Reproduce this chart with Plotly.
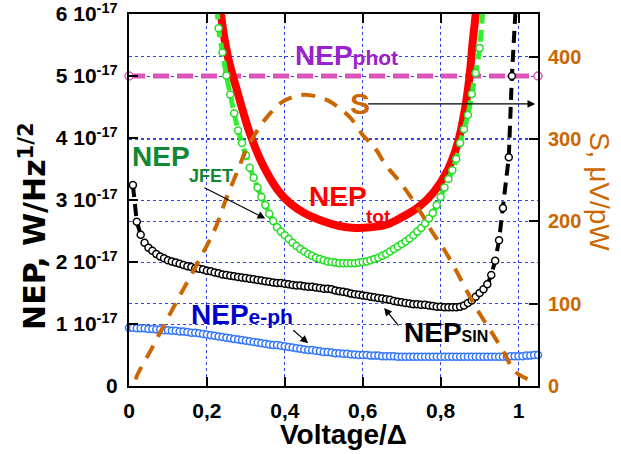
import plotly.graph_objects as go

# ---------------- data ----------------
x_ticks = [0, 0.2, 0.4, 0.6, 0.8, 1.0]
x_tick_labels = ["0", "0,2", "0,4", "0,6", "0,8", "1"]
nep_ticks = [0, 1, 2, 3, 4, 5, 6]
nep_tick_labels = ["0", "1 10<sup>-17</sup>", "2 10<sup>-17</sup>", "3 10<sup>-17</sup>",
                   "4 10<sup>-17</sup>", "5 10<sup>-17</sup>", "6 10<sup>-17</sup>"]
s_ticks = [0, 100, 200, 300, 400]

# NEP values in units of 1e-17 W/Hz^1/2
phot_x = [0.0, 1.05]
phot_y = [5.0, 5.0]

jfet_start, jfet_step = 0.23, 0.01
jfet_y = [5.77, 5.38, 5.01, 4.70, 4.40, 4.12, 3.92, 3.72, 3.52, 3.36,
          3.20, 3.05, 2.92, 2.78, 2.66, 2.56, 2.49, 2.43, 2.37, 2.31,
          2.26, 2.21, 2.17, 2.13, 2.10, 2.07, 2.05, 2.03, 2.01, 2.00,
          1.99, 1.98, 1.98, 1.98, 1.98, 1.98, 1.99, 2.00, 2.01, 2.03,
          2.05, 2.07, 2.10, 2.13, 2.17, 2.21, 2.25, 2.29, 2.33, 2.38,
          2.43, 2.49, 2.55, 2.62, 2.70, 2.79, 2.92, 3.05, 3.20, 3.34,
          3.48, 3.66, 3.92, 4.14, 4.37, 4.71, 5.05, 5.45]
jfet_end_x = [0.224, 0.912]
jfet_end_y = [6.4, 6.4]

sin_start, sin_step = 0.01, 0.01
sin_y = [3.24, 2.65, 2.44, 2.31, 2.23, 2.18, 2.13, 2.09, 2.06, 2.03,
         2.01, 1.99, 1.97, 1.95, 1.93, 1.92, 1.90, 1.89, 1.88, 1.86,
         1.85, 1.83, 1.82, 1.80, 1.79, 1.78, 1.77, 1.76, 1.75, 1.74,
         1.73, 1.72, 1.71, 1.70, 1.69, 1.68, 1.67, 1.66, 1.66, 1.65,
         1.64, 1.63, 1.62, 1.62, 1.61, 1.60, 1.60, 1.59, 1.58, 1.57,
         1.57, 1.56, 1.54, 1.53, 1.52, 1.51, 1.49, 1.48, 1.47, 1.46,
         1.45, 1.44, 1.43, 1.42, 1.41, 1.40, 1.39, 1.37, 1.36, 1.35,
         1.34, 1.33, 1.32, 1.32, 1.31, 1.31, 1.30, 1.29, 1.28, 1.28,
         1.27, 1.27, 1.27, 1.27, 1.28, 1.30, 1.34, 1.38, 1.44, 1.50,
         1.56, 1.64, 1.79, 2.02, 2.35, 2.87]
sin_tail_x = [0.975, 0.983]
sin_tail_y = [3.69, 5.00]
sin_end_x = [0.993, 0.997]
sin_end_y = [6.0, 6.6]

eph_start, eph_step = 0.0, 0.01
eph_y = [0.94, 0.94, 0.93, 0.93, 0.93, 0.92, 0.92, 0.91, 0.91, 0.90,
         0.90, 0.89, 0.89, 0.88, 0.88, 0.87, 0.86, 0.86, 0.85, 0.84,
         0.83, 0.82, 0.81, 0.80, 0.79, 0.78, 0.77, 0.76, 0.75, 0.74,
         0.73, 0.72, 0.71, 0.70, 0.69, 0.68, 0.67, 0.66, 0.66, 0.65,
         0.64, 0.63, 0.62, 0.61, 0.60, 0.59, 0.58, 0.58, 0.57, 0.56,
         0.55, 0.55, 0.54, 0.53, 0.53, 0.52, 0.52, 0.51, 0.51, 0.50,
         0.50, 0.50, 0.49, 0.49, 0.49, 0.48, 0.48, 0.48, 0.48, 0.47,
         0.47, 0.47, 0.47, 0.47, 0.47, 0.47, 0.47, 0.47, 0.47, 0.47,
         0.47, 0.47, 0.47, 0.47, 0.47, 0.47, 0.47, 0.47, 0.47, 0.47,
         0.47, 0.47, 0.47, 0.47, 0.47, 0.47, 0.47, 0.47, 0.48, 0.48,
         0.48, 0.48, 0.49, 0.49, 0.50, 0.50]

tot_x = [0.232, 0.236, 0.254, 0.279, 0.31, 0.341, 0.382, 0.413, 0.45, 0.497,
         0.54, 0.58, 0.62, 0.66, 0.70, 0.74, 0.78, 0.818, 0.844, 0.862,
         0.874, 0.882, 0.89, 0.893]
tot_y = [6.3, 6.0, 5.31, 4.73, 4.08, 3.6, 3.16, 2.95, 2.79, 2.66,
         2.58, 2.55, 2.56, 2.60, 2.72, 2.87, 3.11, 3.48, 3.92, 4.45,
         4.98, 5.53, 6.0, 6.3]

# responsivity S, uV/pW (right axis)
s_x = [0.018, 0.02, 0.06, 0.10, 0.14, 0.18, 0.22, 0.25, 0.28, 0.30,
       0.33, 0.36, 0.39, 0.42, 0.45, 0.48, 0.51, 0.54, 0.57, 0.60,
       0.63, 0.66, 0.69, 0.72, 0.75, 0.78, 0.81, 0.84, 0.87, 0.90,
       0.93, 0.96, 0.99, 1.02, 1.04]
s_y = [8, 12, 47, 83, 118, 153, 190, 228, 263, 286,
       311, 330, 344, 351, 354, 352, 347, 338, 325, 305,
       290, 268, 251, 232, 210, 186, 165, 140, 113, 88,
       66, 43, 18, 9, 5]

def grid(start, step, n):
    return [round(start + step * i, 4) for i in range(n)]

jfet_x = grid(jfet_start, jfet_step, len(jfet_y))
sin_x = grid(sin_start, sin_step, len(sin_y)) + sin_tail_x
sin_all_y = sin_y + sin_tail_y
eph_x = grid(eph_start, eph_step, len(eph_y))

# ---------------- styles ----------------
FONT = "Liberation Sans, Arial, sans-serif"
WIDE_FONT = "DejaVu Sans, Liberation Sans, sans-serif"
ORANGE = "#CC6600"
PINK = "#DD55BB"
RED = "#FF0000"
LIME = "#33EE33"
GREEN_TXT = "#118833"
BLUE = "#3377FF"
GRID = "#3344EE"

fig = go.Figure()

# photon NEP
fig.add_trace(go.Scatter(x=phot_x, y=phot_y, mode="lines+markers",
                         line=dict(color=PINK, width=5, dash="16px,8px"),
                         marker=dict(symbol="circle", size=8, color="white",
                                     line=dict(color=PINK, width=1.5)),
                         cliponaxis=False))
# total NEP
fig.add_trace(go.Scatter(x=tot_x, y=tot_y, mode="lines",
                         line=dict(color=RED, width=8, shape="spline")))
# JFET dashed fit + markers
fig.add_trace(go.Scatter(x=[jfet_end_x[0]] + jfet_x + [jfet_end_x[1]],
                         y=[jfet_end_y[0]] + jfet_y + [jfet_end_y[1]],
                         mode="lines",
                         line=dict(color=LIME, width=5, dash="12px,6px", shape="spline")))
fig.add_trace(go.Scatter(x=jfet_x, y=jfet_y, mode="markers",
                         marker=dict(symbol="circle", size=7, color="white",
                                     line=dict(color="#22DD22", width=1.5))))
# SIN dashed fit + markers
fig.add_trace(go.Scatter(x=sin_x + sin_end_x, y=sin_all_y + sin_end_y, mode="lines",
                         line=dict(color="black", width=4, dash="12px,7px")))
fig.add_trace(go.Scatter(x=sin_x, y=sin_all_y, mode="markers",
                         marker=dict(symbol="circle", size=7, color="white",
                                     line=dict(color="black", width=1.5))))
# electron-phonon NEP
fig.add_trace(go.Scatter(x=eph_x, y=eph_y, mode="markers",
                         marker=dict(symbol="circle", size=7, color="white",
                                     line=dict(color=BLUE, width=1.5)),
                         cliponaxis=False))
# responsivity
fig.add_trace(go.Scatter(x=s_x, y=s_y, mode="lines", yaxis="y2",
                         line=dict(color=ORANGE, width=4, dash="14px,10px", shape="spline")))

axis_common = dict(ticks="inside", ticklen=9, tickwidth=1.5, tickcolor="black",
                   showline=True, linecolor="black", linewidth=2,
                   showgrid=True, gridcolor=GRID, griddash="dot", gridwidth=1,
                   zeroline=False, automargin=False, ticklabeloverflow="allow")

fig.update_layout(
    width=621, height=454,
    margin=dict(l=129, r=83, t=14, b=68),
    plot_bgcolor="white", paper_bgcolor="white",
    showlegend=False,
    font=dict(family=FONT, color="black"),
    xaxis=dict(range=[0, 1.05], tickvals=x_ticks, ticktext=x_tick_labels,
               mirror="ticks", ticklabelstandoff=5,
               tickfont=dict(size=21, weight="bold", color="black"), **axis_common),
    yaxis=dict(range=[0, 6], tickvals=nep_ticks, ticktext=nep_tick_labels,
               ticklabelstandoff=5,
               tickfont=dict(size=21, weight="bold", color="black"), **axis_common),
    yaxis2=dict(range=[0, 452], tickvals=s_ticks, overlaying="y", side="right",
                ticklabelstandoff=4,
                tickfont=dict(size=20, weight="bold", color=ORANGE), **axis_common),
)

def label(text, x, y, color, size, xanchor="left", yanchor="middle", xref="x", yref="y",
          angle=0, weight="bold", family=FONT):
    fig.add_annotation(text=text, x=x, y=y, xref=xref, yref=yref, showarrow=False,
                       xanchor=xanchor, yanchor=yanchor, textangle=angle,
                       font=dict(family=family, size=size, color=color, weight=weight))

def arrow(x, y, ax, ay):
    fig.add_annotation(x=x, y=y, ax=ax, ay=ay, xref="x", yref="y", axref="x", ayref="y",
                       text="", showarrow=True, arrowhead=2, arrowsize=1.3,
                       arrowwidth=1.2, arrowcolor="black")

label("NEP<span style='font-size:21px'>phot</span>", 0.42, 5.33, "#9922CC", 28)
label("S", 0.562, 4.55, ORANGE, 30)
arrow(1.043, 4.55, 0.61, 4.55)
label("NEP", 0.003, 3.70, GREEN_TXT, 28)
label("JFET", 0.15, 3.38, GREEN_TXT, 18)
arrow(0.35, 2.70, 0.19, 3.21)
label("NEP", 0.457, 3.05, RED, 28)
label("tot", 0.603, 2.74, RED, 19)
label("NEP<span style='font-size:16px'>SIN</span>", 0.70, 0.87, "black", 28)
arrow(0.655, 1.26, 0.695, 0.95)
label("NEP<span style='font-size:21px'>e-ph</span>", 0.155, 1.15, "#0000CC", 28)
arrow(0.46, 0.69, 0.418, 0.92)

# axis titles
label("Voltage/Δ", 0.551, -0.13, "black", 28, xanchor="center", yref="paper")
label("NEP, W/Hz<sup>1/2</sup>", -0.235, 0.43, "black", 30, xanchor="center",
      xref="paper", yref="paper", angle=-90, family=WIDE_FONT)
label("S, μV/pW", 1.152, 0.524, ORANGE, 28, xanchor="center",
      xref="paper", yref="paper", angle=90, weight="normal")

# remove the browser's default 8px page margin so the figure fills the window
fig.write_html("out.html", config={"displayModeBar": False},
               post_script="document.body.style.margin='0px';")
